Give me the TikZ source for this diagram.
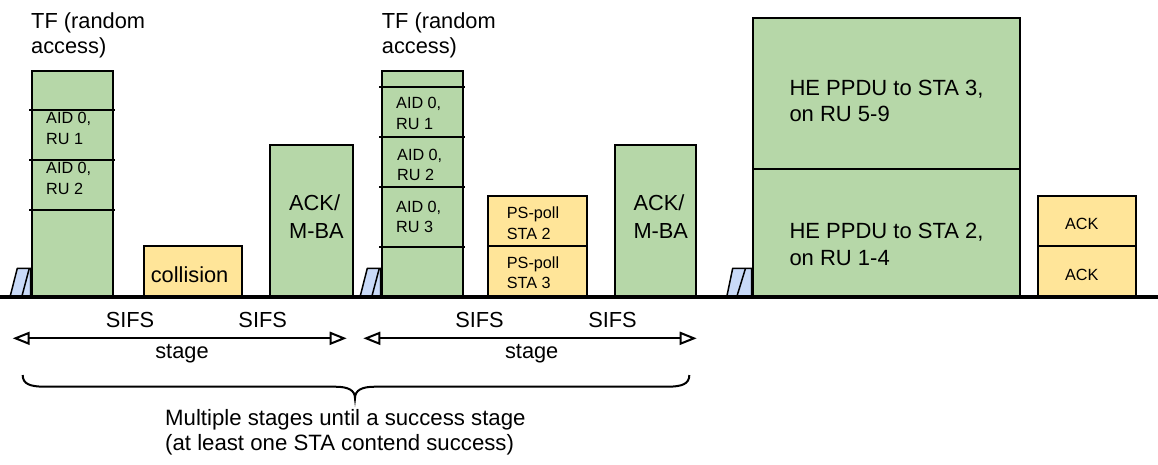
\documentclass[tikz,border=0pt]{standalone}
\usepackage{fontspec}
\setmainfont{Liberation Sans}
\usetikzlibrary{arrows.meta}
\definecolor{boxgreen}{HTML}{B6D7A8}
\definecolor{boxyellow}{HTML}{FFE599}
\definecolor{gapblue}{HTML}{C9DAF8}
\begin{document}
\begin{tikzpicture}[x=1pt,y=-1pt,
  box/.style={draw=black, line width=2pt, inner sep=0pt, anchor=south west},
  gbox/.style={box, fill=boxgreen},
  ybox/.style={box, fill=boxyellow},
  big/.style={font=\fontsize{21.8}{26}\selectfont, inner sep=0pt, anchor=base west},
  bigc/.style={font=\fontsize{21.8}{26}\selectfont, inner sep=0pt, anchor=base},
  note/.style={font=\fontsize{22.2}{26}\selectfont, inner sep=0pt, anchor=base west},
  huge/.style={font=\fontsize{22}{26}\selectfont, inner sep=0pt, anchor=base west},
  small/.style={font=\fontsize{16.2}{20}\selectfont, inner sep=0pt, anchor=base west},
  smallc/.style={font=\fontsize{16.2}{20}\selectfont, inner sep=0pt, anchor=base},
  divider/.style={line width=2pt},
  gapshape/.style={fill=gapblue, draw=black, line width=1.5pt, line join=round},
  stagearrow/.style={line width=2pt, {Triangle[open,length=17pt,width=13pt]}-{Triangle[open,length=17pt,width=13pt]}},
  bracestyle/.style={line width=2pt},
  baseline/.style={line width=4pt}
]
\useasboundingbox (0,0) rectangle (1158,464);

% gap shapes (slot markers)
\filldraw[gapshape] (10,297) -- (17.3,268.3) -- (30.7,268.3) -- (30.7,297) -- cycle;
\draw[line width=1.5pt] (21.7,297) -- (29.3,268.3);
\filldraw[gapshape] (360,297) -- (367.3,268.3) -- (380.7,268.3) -- (380.7,297) -- cycle;
\draw[line width=1.5pt] (371.7,297) -- (379.3,268.3);
\filldraw[gapshape] (726.7,297) -- (732.7,268.3) -- (751.7,268.3) -- (751.7,297) -- cycle;
\draw[line width=1.5pt] (736.7,297) -- (745.5,268.3);

% stage 1
\node[big] (tf1a) at (31,28) {TF (random};
\node[big] (tf1b) at (31,53.3) {access)};
\node[gbox, minimum width=81.6pt, minimum height=224.7pt] (tf1) at (30.7,297) {};
\draw[divider] (29.3,110) -- (115,110);
\draw[divider] (29.3,160) -- (115,160);
\draw[divider] (29.3,210) -- (115,210);
\node[small] (tf1r1a) at (46,123.3) {AID 0,};
\node[small] (tf1r1b) at (46,144) {RU 1};
\node[small] (tf1r2a) at (46,173.3) {AID 0,};
\node[small] (tf1r2b) at (46,194) {RU 2};

\node[ybox, minimum width=98pt, minimum height=50.3pt] (coll) at (142.7,297) {};
\node[bigc] (colltext) at (189.6,282.7) {collision};

\node[gbox, minimum width=82.4pt, minimum height=151pt] (ack1) at (269.3,297) {};
\node[big] (ack1a) at (289,210.7) {ACK/};
\node[big] (ack1b) at (289,238.3) {M-BA};

% stage 2
\node[big] (tf2a) at (381.7,28) {TF (random};
\node[big] (tf2b) at (381.7,53.3) {access)};
\node[gbox, minimum width=81.6pt, minimum height=224.7pt] (tf2) at (380.7,297) {};
\draw[divider] (379.3,87.3) -- (465,87.3);
\draw[divider] (379.3,137) -- (465,137);
\draw[divider] (379.3,187.3) -- (465,187.3);
\draw[divider] (379.3,246.7) -- (465,246.7);
\node[small] (tf2r1a) at (396,108.3) {AID 0,};
\node[small] (tf2r1b) at (396,129) {RU 1};
\node[small] (tf2r2a) at (397,160) {AID 0,};
\node[small] (tf2r2b) at (397,180.5) {RU 2};
\node[small] (tf2r3a) at (396,212.3) {AID 0,};
\node[small] (tf2r3b) at (396,232.7) {RU 3};

\node[ybox, minimum width=98.4pt, minimum height=50.3pt] (ps3) at (487.3,297) {};
\node[ybox, minimum width=98.4pt, minimum height=50pt] (ps2) at (487.3,246.7) {};
\node[small] (ps2a) at (506.7,218) {PS-poll};
\node[small] (ps2b) at (506.7,239.3) {STA 2};
\node[small] (ps3a) at (506.7,268.3) {PS-poll};
\node[small] (ps3b) at (506.7,288.6) {STA 3};

\node[gbox, minimum width=81.3pt, minimum height=151pt] (ack2) at (613.7,297) {};
\node[big] (ack2a) at (633.3,210.7) {ACK/};
\node[big] (ack2b) at (633.3,238.3) {M-BA};

% success stage
\node[gbox, minimum width=267.6pt, minimum height=127pt] (he2) at (751.7,297) {};
\node[gbox, minimum width=267.6pt, minimum height=150.7pt] (he3) at (751.7,170) {};
\node[huge] (he3a) at (789.3,95) {HE PPDU to STA 3,};
\node[huge] (he3b) at (789.3,121.7) {on RU 5-9};
\node[huge] (he2a) at (789.3,238.3) {HE PPDU to STA 2,};
\node[huge] (he2b) at (789.3,265) {on RU 1-4};

\node[ybox, minimum width=98.3pt, minimum height=50.3pt] (acka) at (1036.7,297) {};
\node[ybox, minimum width=98.3pt, minimum height=50pt] (ackb) at (1036.7,246.7) {};
\node[smallc] (ackbt) at (1081.7,229.3) {ACK};
\node[smallc] (ackat) at (1081.7,280) {ACK};

% time line
\coordinate (tl0) at (0,297);
\coordinate (tl1) at (1158,297);
\draw[baseline] (tl0) -- (tl1);

% stage arrows
\coordinate (s1l) at (12.7,338.3);
\coordinate (s1r) at (346.7,338.3);
\coordinate (s2l) at (363.3,338.3);
\coordinate (s2r) at (696.7,338.3);
\draw[stagearrow] (s1l) -- (s1r);
\draw[stagearrow] (s2l) -- (s2r);
\node[bigc] (sifs1) at (130,327.3) {SIFS};
\node[bigc] (sifs2) at (262.7,327.3) {SIFS};
\node[bigc] (sifs3) at (479.5,327.3) {SIFS};
\node[bigc] (sifs4) at (612.5,327.3) {SIFS};
\node[bigc] (stage1) at (182,358) {stage};
\node[bigc] (stage2) at (531.7,358) {stage};

% brace
\coordinate (bl) at (22.7,375);
\coordinate (bm) at (355,398.3);
\coordinate (br) at (689.3,375);
\draw[bracestyle] (bl) .. controls (22.7,384) and (30,386.7) .. (45,386.7)
  -- (335,386.7) .. controls (348,386.7) and (355,390) .. (bm)
  .. controls (355,390) and (362,386.7) .. (375,386.7)
  -- (667,386.7) .. controls (682,386.7) and (689.3,384) .. (br);

\node[note] (note1) at (165,425) {Multiple stages until a success stage};
\node[note] (note2) at (165,450) {(at least one STA contend success)};
\end{tikzpicture}
\end{document}
